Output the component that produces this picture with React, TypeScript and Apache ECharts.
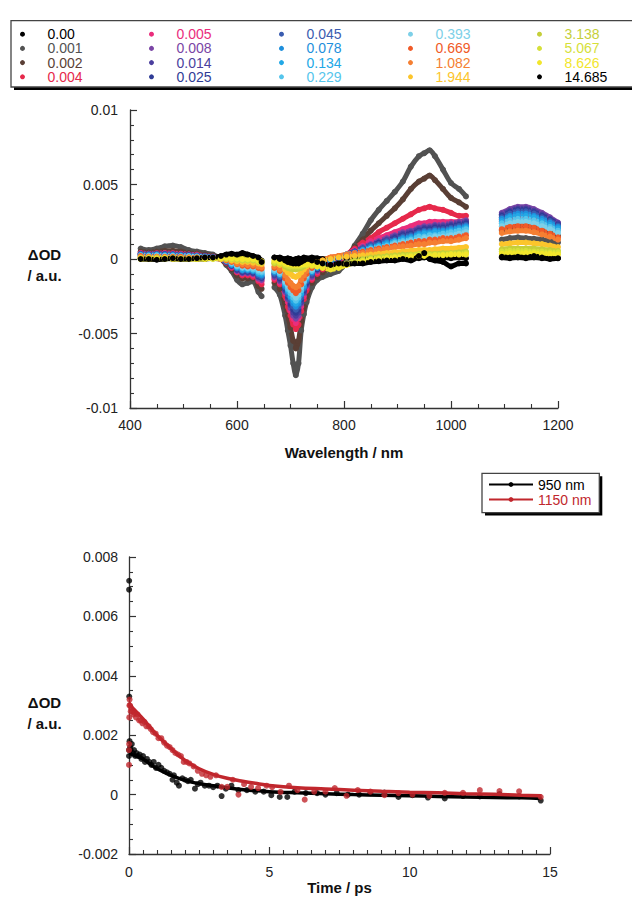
import React, { useEffect, useRef } from 'react';
import * as echarts from 'echarts';

// ---------- Transient spectra (values in mOD, i.e. ×1e-3) ----------
const delayTimes = ['0.00', '0.001', '0.002', '0.004', '0.005', '0.008', '0.014', '0.025', '0.045', '0.078', '0.134', '0.229', '0.393', '0.669', '1.082', '1.944', '3.138', '5.067', '8.626', '14.685'];
const delayColors = ['#000000', '#525252', '#5a3f35', '#e6294b', '#ea2d7c', '#7a45a5', '#4b3f9e', '#2f3c96', '#3a5cb0', '#1e8fdc', '#22a8e6', '#55c5ec', '#7dd0e8', '#f05a28', '#f57f32', '#fcc52c', '#c5cf3a', '#d6e03a', '#f2e62c', '#000000'];

const wlA = [420, 435, 450, 465, 480, 495, 510, 525, 540, 555, 570, 580, 590, 600, 610, 620, 630, 640, 646];
const wlB = [670, 680, 690, 695, 700, 705, 710, 715, 720, 725, 730, 740, 750, 760, 775, 790, 805, 820, 835, 850, 865, 880, 895, 910, 925, 940, 950, 960, 970, 985, 1000, 1015, 1028];
const wlC = [1095, 1110, 1125, 1140, 1155, 1170, 1185, 1200];

const od_0_00 = [
  0.05, 0.0, 0.0, 0.05, 0.0, 0.0, 0.05, 0.0, 0.0, 0.05, 0.1, 0.1, 0.05, 0.1, 0.0, 0.1, 0.0, -0.05, -0.1,
  0.1, 0.1, 0.0, 0.05, 0.0, -0.05, 0.0, 0.05, 0.0, 0.1, 0.05, 0.1, 0.05, 0.0, 0.05, 0.0, 0.05, 0.1, 0.05, 0.1, 0.05, 0.1, 0.05, 0.1, 0.1, 0.05, 0.1, 0.1, 0.05, 0.1, 0.05, 0.1, 0.05,
  0.1, 0.05, 0.1, 0.05, 0.1, 0.05, 0.1, 0.05,
];
const od_0_001 = [
  0.7, 0.6, 0.7, 0.85, 0.9, 0.8, 0.6, 0.5, 0.4, 0.3, 0.0, -0.4, -0.8, -1.4, -1.7, -1.6, -1.5, -2.2, -2.5,
  -1.9, -2.4, -3.8, -4.8, -5.8, -7.0, -7.8, -7.0, -4.8, -3.7, -2.9, -1.9, -1.4, -1.2, -1.0, -0.8, -0.2, 0.9, 1.7, 2.6, 3.3, 3.9, 4.5, 5.2, 6.2, 6.9, 7.1, 7.3, 6.9, 6.0, 5.1, 4.7, 4.2,
  1.3, 1.4, 1.45, 1.4, 1.35, 1.3, 1.2, 1.1,
];
const od_0_002 = [
  0.5, 0.45, 0.5, 0.55, 0.55, 0.5, 0.4, 0.35, 0.3, 0.2, 0.0, -0.3, -0.7, -1.1, -1.3, -1.3, -1.3, -1.8, -2.0,
  -1.6, -2.0, -3.0, -3.8, -4.6, -5.5, -6.0, -5.5, -4.2, -3.2, -2.5, -1.6, -1.2, -0.9, -0.6, -0.3, 0.2, 0.8, 1.3, 1.9, 2.4, 2.9, 3.4, 4.0, 4.7, 5.2, 5.4, 5.6, 5.3, 4.7, 4.1, 3.8, 3.5,
  1.9, 2.1, 2.2, 2.2, 2.1, 1.9, 1.75, 1.55,
];
const od_0_004 = [
  0.4, 0.35, 0.4, 0.4, 0.4, 0.35, 0.3, 0.3, 0.2, 0.15, 0.0, -0.25, -0.6, -0.9, -1.1, -1.1, -1.2, -1.5, -1.7,
  -1.4, -1.7, -2.5, -3.2, -3.8, -4.4, -4.7, -4.4, -3.5, -2.7, -2.1, -1.4, -1.0, -0.7, -0.4, -0.1, 0.3, 0.7, 1.1, 1.4, 1.8, 2.1, 2.4, 2.7, 3.0, 3.3, 3.4, 3.5, 3.4, 3.3, 3.1, 2.9, 2.9,
  2.5, 2.7, 2.8, 2.8, 2.7, 2.5, 2.25, 2.0,
];
const od_0_005 = [
  0.4, 0.35, 0.35, 0.4, 0.35, 0.35, 0.3, 0.25, 0.2, 0.15, 0.0, -0.2, -0.55, -0.85, -1.0, -1.0, -1.1, -1.4, -1.5,
  -1.3, -1.6, -2.3, -2.9, -3.5, -4.0, -4.3, -4.0, -3.2, -2.5, -1.9, -1.3, -0.9, -0.6, -0.3, 0.0, 0.3, 0.6, 0.9, 1.2, 1.4, 1.6, 1.8, 2.0, 2.2, 2.4, 2.4, 2.5, 2.5, 2.5, 2.5, 2.5, 2.6,
  2.65, 2.9, 3.0, 3.0, 2.9, 2.65, 2.4, 2.1,
];
const od_0_008 = [
  0.35, 0.35, 0.35, 0.35, 0.35, 0.3, 0.3, 0.25, 0.2, 0.15, 0.0, -0.2, -0.5, -0.8, -0.95, -0.95, -1.0, -1.3, -1.4,
  -1.2, -1.5, -2.2, -2.7, -3.3, -3.8, -4.0, -3.8, -3.0, -2.3, -1.8, -1.2, -0.8, -0.5, -0.2, 0.0, 0.3, 0.5, 0.8, 1.0, 1.2, 1.4, 1.6, 1.8, 1.9, 2.1, 2.2, 2.2, 2.3, 2.3, 2.4, 2.5, 2.6,
  3.1, 3.35, 3.5, 3.5, 3.35, 3.1, 2.8, 2.45,
];
const od_0_014 = [
  0.35, 0.3, 0.35, 0.35, 0.3, 0.3, 0.25, 0.2, 0.2, 0.1, 0.0, -0.2, -0.45, -0.75, -0.9, -0.9, -0.95, -1.2, -1.3,
  -1.1, -1.4, -2.1, -2.6, -3.1, -3.6, -3.8, -3.6, -2.9, -2.2, -1.7, -1.1, -0.7, -0.4, -0.2, 0.0, 0.3, 0.5, 0.7, 0.9, 1.1, 1.3, 1.5, 1.7, 1.8, 2.0, 2.1, 2.1, 2.2, 2.2, 2.3, 2.4, 2.5,
  3.0, 3.25, 3.4, 3.4, 3.25, 3.0, 2.7, 2.4,
];
const od_0_025 = [
  0.3, 0.3, 0.3, 0.3, 0.3, 0.25, 0.25, 0.2, 0.15, 0.1, 0.0, -0.15, -0.45, -0.7, -0.85, -0.85, -0.9, -1.15, -1.25,
  -1.0, -1.3, -2.0, -2.5, -3.0, -3.4, -3.6, -3.4, -2.7, -2.1, -1.6, -1.0, -0.7, -0.4, -0.1, 0.05, 0.3, 0.5, 0.7, 0.9, 1.1, 1.2, 1.4, 1.6, 1.7, 1.9, 2.0, 2.0, 2.1, 2.1, 2.2, 2.3, 2.4,
  2.9, 3.15, 3.3, 3.3, 3.15, 2.9, 2.65, 2.3,
];
const od_0_045 = [
  0.3, 0.3, 0.3, 0.3, 0.3, 0.25, 0.2, 0.2, 0.15, 0.1, 0.0, -0.15, -0.4, -0.65, -0.8, -0.8, -0.85, -1.1, -1.2,
  -1.0, -1.2, -1.9, -2.4, -2.8, -3.2, -3.4, -3.2, -2.6, -2.0, -1.5, -1.0, -0.6, -0.3, -0.1, 0.1, 0.3, 0.5, 0.7, 0.9, 1.0, 1.2, 1.3, 1.5, 1.6, 1.8, 1.9, 1.9, 2.0, 2.0, 2.1, 2.2, 2.3,
  2.8, 3.05, 3.2, 3.2, 3.05, 2.8, 2.55, 2.25,
];
const od_0_078 = [
  0.3, 0.25, 0.3, 0.25, 0.25, 0.25, 0.2, 0.2, 0.15, 0.1, 0.0, -0.15, -0.4, -0.6, -0.75, -0.75, -0.8, -1.0, -1.1,
  -0.9, -1.1, -1.8, -2.2, -2.6, -3.0, -3.2, -3.0, -2.4, -1.9, -1.4, -0.9, -0.6, -0.3, -0.1, 0.1, 0.3, 0.4, 0.6, 0.8, 0.9, 1.1, 1.2, 1.4, 1.5, 1.7, 1.8, 1.8, 1.9, 1.9, 2.0, 2.1, 2.2,
  2.7, 2.9, 3.05, 3.05, 2.9, 2.7, 2.45, 2.15,
];
const od_0_134 = [
  0.25, 0.25, 0.25, 0.25, 0.25, 0.2, 0.2, 0.15, 0.15, 0.1, 0.0, -0.1, -0.35, -0.55, -0.7, -0.7, -0.75, -0.95, -1.0,
  -0.8, -1.0, -1.7, -2.1, -2.5, -2.8, -3.0, -2.8, -2.3, -1.8, -1.3, -0.8, -0.5, -0.3, -0.1, 0.1, 0.3, 0.4, 0.6, 0.7, 0.9, 1.0, 1.2, 1.3, 1.4, 1.6, 1.7, 1.7, 1.8, 1.8, 1.9, 2.0, 2.1,
  2.55, 2.8, 2.9, 2.9, 2.8, 2.55, 2.3, 2.05,
];
const od_0_229 = [
  0.25, 0.2, 0.25, 0.2, 0.2, 0.2, 0.2, 0.15, 0.1, 0.1, 0.0, -0.1, -0.3, -0.5, -0.6, -0.65, -0.7, -0.85, -0.9,
  -0.8, -1.0, -1.6, -2.0, -2.3, -2.6, -2.8, -2.6, -2.1, -1.6, -1.2, -0.8, -0.5, -0.2, 0.0, 0.1, 0.3, 0.4, 0.5, 0.7, 0.8, 0.9, 1.1, 1.2, 1.3, 1.5, 1.5, 1.6, 1.6, 1.7, 1.8, 1.9, 2.0,
  2.4, 2.6, 2.7, 2.7, 2.6, 2.4, 2.15, 1.9,
];
const od_0_393 = [
  0.2, 0.2, 0.2, 0.2, 0.2, 0.15, 0.15, 0.15, 0.1, 0.05, 0.0, -0.1, -0.25, -0.45, -0.55, -0.6, -0.6, -0.75, -0.8,
  -0.7, -0.9, -1.5, -1.8, -2.1, -2.4, -2.6, -2.4, -1.9, -1.5, -1.1, -0.7, -0.4, -0.2, 0.0, 0.1, 0.3, 0.4, 0.5, 0.6, 0.7, 0.8, 1.0, 1.1, 1.2, 1.3, 1.4, 1.4, 1.5, 1.5, 1.6, 1.7, 1.8,
  2.2, 2.4, 2.5, 2.5, 2.4, 2.2, 2.0, 1.75,
];
const od_0_669 = [
  0.2, 0.15, 0.15, 0.15, 0.15, 0.15, 0.1, 0.1, 0.1, 0.05, 0.0, -0.1, -0.2, -0.35, -0.45, -0.5, -0.5, -0.6, -0.65,
  -0.6, -0.8, -1.3, -1.6, -1.9, -2.1, -2.3, -2.1, -1.7, -1.3, -1.0, -0.6, -0.3, -0.1, 0.1, 0.2, 0.3, 0.4, 0.5, 0.6, 0.7, 0.8, 0.9, 1.0, 1.1, 1.2, 1.2, 1.3, 1.3, 1.4, 1.4, 1.5, 1.6,
  2.0, 2.15, 2.2, 2.2, 2.1, 1.9, 1.7, 1.45,
];
const od_1_082 = [
  0.15, 0.15, 0.15, 0.1, 0.1, 0.1, 0.1, 0.1, 0.05, 0.05, 0.0, -0.05, -0.15, -0.3, -0.35, -0.4, -0.4, -0.5, -0.55,
  -0.5, -0.7, -1.1, -1.4, -1.6, -1.8, -1.9, -1.8, -1.4, -1.1, -0.8, -0.5, -0.3, -0.1, 0.1, 0.2, 0.3, 0.35, 0.4, 0.5, 0.6, 0.7, 0.8, 0.85, 0.9, 1.0, 1.0, 1.1, 1.1, 1.2, 1.2, 1.3, 1.4,
  1.75, 1.85, 1.9, 1.9, 1.8, 1.65, 1.5, 1.3,
];
const od_1_944 = [
  0.1, 0.1, 0.1, 0.1, 0.1, 0.05, 0.05, 0.05, 0.05, 0.05, 0.0, 0.0, -0.1, -0.15, -0.2, -0.2, -0.25, -0.3, -0.35,
  -0.3, -0.4, -0.7, -0.9, -1.0, -1.15, -1.2, -1.1, -0.9, -0.7, -0.5, -0.3, -0.2, -0.1, 0.0, 0.1, 0.15, 0.2, 0.25, 0.3, 0.35, 0.4, 0.45, 0.5, 0.55, 0.6, 0.6, 0.6, 0.65, 0.7, 0.7, 0.75, 0.8,
  1.0, 1.05, 1.1, 1.1, 1.05, 1.0, 0.9, 0.8,
];
const od_3_138 = [
  0.05, 0.05, 0.05, 0.05, 0.05, 0.05, 0.0, 0.05, 0.0, 0.05, 0.05, 0.0, 0.0, -0.05, -0.1, -0.1, -0.1, -0.2, -0.25,
  -0.3, -0.3, -0.5, -0.6, -0.65, -0.7, -0.7, -0.65, -0.6, -0.5, -0.4, -0.4, -0.45, -0.5, -0.55, -0.5, -0.3, -0.1, 0.0, 0.1, 0.15, 0.2, 0.25, 0.3, 0.3, 0.35, 0.4, 0.35, 0.35, 0.4, 0.4, 0.45, 0.5,
  0.65, 0.7, 0.7, 0.7, 0.7, 0.65, 0.6, 0.55,
];
const od_5_067 = [
  0.0, 0.05, 0.0, 0.0, 0.05, 0.0, 0.0, 0.0, 0.05, 0.0, 0.05, 0.05, 0.0, 0.0, -0.05, -0.05, -0.05, -0.15, -0.2,
  -0.2, -0.3, -0.4, -0.45, -0.5, -0.5, -0.5, -0.5, -0.45, -0.4, -0.4, -0.45, -0.5, -0.55, -0.6, -0.55, -0.35, -0.2, -0.1, 0.0, 0.05, 0.1, 0.15, 0.2, 0.25, 0.3, 0.3, 0.3, 0.3, 0.3, 0.35, 0.35, 0.4,
  0.5, 0.55, 0.55, 0.55, 0.5, 0.5, 0.45, 0.45,
];
const od_8_626 = [
  0.0, 0.0, 0.0, 0.05, 0.0, 0.0, 0.0, 0.0, 0.0, 0.05, 0.05, 0.1, 0.05, 0.05, 0.0, 0.0, 0.0, -0.1, -0.15,
  -0.1, -0.2, -0.3, -0.35, -0.35, -0.4, -0.4, -0.4, -0.35, -0.35, -0.35, -0.4, -0.5, -0.6, -0.7, -0.6, -0.4, -0.25, -0.15, -0.05, 0.0, 0.05, 0.1, 0.1, 0.15, 0.2, 0.2, 0.2, 0.25, 0.25, 0.3, 0.3, 0.3,
  0.35, 0.4, 0.4, 0.4, 0.4, 0.35, 0.35, 0.3,
];
const od_14_685 = [
  0.0, 0.0, -0.05, 0.0, 0.05, 0.0, 0.0, 0.05, 0.1, 0.1, 0.2, 0.3, 0.35, 0.3, 0.4, 0.3, 0.2, 0.1, -0.2,
  0.1, 0.0, -0.1, -0.2, -0.25, -0.3, -0.3, -0.3, -0.2, -0.1, 0.0, -0.1, -0.2, -0.3, -0.4, -0.3, -0.35, -0.3, -0.3, -0.2, -0.15, -0.1, -0.1, 0.0, -0.1, 0.2, 0.4, 0.0, -0.1, -0.2, -0.5, -0.3, -0.3,
  0.15, 0.1, 0.15, 0.1, 0.2, 0.1, 0.0, 0.05,
];
const spectraValues = [od_0_00, od_0_001, od_0_002, od_0_004, od_0_005, od_0_008, od_0_014, od_0_025, od_0_045, od_0_078, od_0_134, od_0_229, od_0_393, od_0_669, od_1_082, od_1_944, od_3_138, od_5_067, od_8_626, od_14_685];

// ---------- Kinetics (time in ps, ΔOD in mOD) ----------
const pts950 = [
  [0, 1.3], [0, 1.5], [0.004, 6.9], [0.006, 7.2], [0.01, 3.3], [0.02, 1.8], [0.04, 1.6], [0.06, 1.5], [0.1, 1.7], [0.14, 1.4],
  [0.18, 1.5], [0.22, 1.3], [0.27, 1.4], [0.32, 1.3], [0.38, 1.35], [0.44, 1.2], [0.5, 1.3], [0.57, 1.1], [0.64, 1.2], [0.72, 1.1],
  [0.8, 1.0], [0.88, 1.1], [0.96, 0.9], [1.05, 1.0], [1.15, 0.9], [1.25, 0.8], [1.35, 0.75], [1.45, 0.7], [1.55, 0.5], [1.6, 0.65],
  [1.7, 0.4], [1.78, 0.3], [1.9, 0.55], [2.0, 0.5], [2.1, 0.45], [2.2, 0.5], [2.35, 0.2], [2.45, 0.35], [2.55, 0.4], [2.7, 0.3],
  [2.85, 0.3], [3.0, 0.25], [3.15, 0.3], [3.3, -0.05], [3.45, 0.2], [3.65, 0.3], [3.9, 0.15], [4.2, 0.15], [4.5, 0.1], [4.8, 0.1],
  [5.07, -0.02], [5.37, -0.08], [5.64, -0.08], [5.9, 0.1], [6.3, 0.05], [6.7, 0.05], [7.0, 0.0], [7.4, 0.05], [7.8, 0.0], [8.2, 0.0],
  [8.6, 0.05], [9.1, 0.07], [9.6, -0.08], [10.1, -0.02], [10.65, -0.1], [11.25, -0.13], [11.9, -0.05], [12.5, -0.06], [13.2, 0.02], [13.9, -0.06],
  [14.67, -0.2],
];
const pts1150 = [
  [0, 1.0], [0, 1.5], [0.005, 1.7], [0.01, 2.6], [0.015, 3.0], [0.02, 3.2], [0.04, 3.0], [0.06, 2.8], [0.08, 2.9], [0.12, 2.8],
  [0.16, 2.7], [0.2, 2.75], [0.25, 2.6], [0.3, 2.7], [0.36, 2.5], [0.42, 2.5], [0.48, 2.4], [0.55, 2.45], [0.62, 2.3], [0.7, 2.3],
  [0.78, 2.2], [0.86, 2.1], [0.95, 2.05], [1.05, 1.9], [1.15, 1.9], [1.25, 1.75], [1.35, 1.65], [1.45, 1.6], [1.55, 1.5], [1.65, 1.4],
  [1.75, 1.35], [1.85, 1.3], [1.95, 1.1], [2.05, 1.1], [2.15, 1.05], [2.3, 0.95], [2.45, 0.8], [2.6, 0.7], [2.75, 0.65], [2.9, 0.6],
  [3.1, 0.65], [3.3, 0.26], [3.5, 0.26], [3.7, 0.5], [3.9, 0.0], [4.1, 0.35], [4.35, 0.26], [4.6, 0.22], [4.9, 0.3], [5.1, 0.25],
  [5.4, 0.09], [5.7, 0.3], [6.0, 0.15], [6.26, -0.17], [6.6, 0.1], [7.0, 0.1], [7.33, 0.22], [7.75, -0.04], [8.15, 0.15], [8.6, 0.1],
  [9.1, -0.02], [9.6, 0.05], [10.1, 0.0], [10.7, -0.04], [11.25, 0.06], [11.9, 0.06], [12.5, 0.15], [13.2, 0.12], [13.9, 0.11], [14.67, -0.08],
];
const fit950 = [
  [0, 1.4], [0.25, 1.3], [0.5, 1.2], [0.75, 1.03], [1, 0.87], [1.5, 0.65], [2, 0.48], [2.5, 0.37], [3, 0.3], [3.5, 0.23],
  [4, 0.17], [5, 0.1], [6, 0.06], [7, 0.03], [8, 0.0], [9, -0.02], [10, -0.04], [11, -0.06], [12, -0.08], [13, -0.1],
  [14, -0.11], [14.7, -0.13],
];
const fit1150 = [
  [0, 3.1], [0.05, 3.0], [0.25, 2.8], [0.5, 2.55], [0.75, 2.27], [1, 2.0], [1.25, 1.77], [1.5, 1.55], [1.75, 1.34], [2, 1.15],
  [2.5, 0.87], [3, 0.68], [3.5, 0.55], [4, 0.46], [4.5, 0.38], [5, 0.31], [6, 0.23], [7, 0.19], [8, 0.15], [9, 0.11],
  [10, 0.08], [11, 0.06], [12, 0.03], [13, 0.01], [14, -0.02], [14.7, -0.04],
];

const xTicksTop = [400, 1200, 200];
const yTicksTop = [-0.01, 0.01, 0.005];
const xTicksBottom = [0, 15, 5];
const yTicksBottom = [-0.002, 0.008, 0.002];

const FONT = 'Liberation Sans, Arial, Helvetica, sans-serif';

function spectrumData(values: number[]) {
  const wls = [...wlA, ...wlB, ...wlC];
  const out: any[] = [];
  wls.forEach((w, i) => {
    out.push([w, values[i] * 1e-3]);
    if (i === wlA.length - 1 || i === wlA.length + wlB.length - 1) out.push([w, null]);
  });
  return out;
}
const toOD = (arr: number[][]) => arr.map(([t, v]) => [t, v * 1e-3]);

const fmt = (v: number) => {
  const s = parseFloat(v.toFixed(4));
  return s === 0 ? '0' : String(s);
};
const fmtInt = (v: number) => String(Math.round(v));

function axisStyle() {
  return {
    axisLine: { show: true, onZero: false, lineStyle: { color: '#333', width: 1.3 } },
    axisTick: { show: true, inside: true, length: 7, lineStyle: { color: '#333', width: 1.2 } },
    minorTick: { show: true, length: 4, lineStyle: { color: '#333', width: 1.1 } },
    splitLine: { show: false },
    minorSplitLine: { show: false },
  };
}

export default function App() {
  const ref = useRef<HTMLDivElement>(null);
  useEffect(() => {
    if (!ref.current) return;
    const chart = echarts.init(ref.current, undefined, { renderer: 'svg' });

    const colLeft = [20, 149, 279, 408, 537];
    const topLegends = colLeft.map((left, c) => ({
      orient: 'vertical',
      left,
      top: 27.2,
      padding: 0,
      itemWidth: 40,
      itemHeight: 5,
      itemGap: 0.2,
      icon: 'circle',
      selectedMode: false,
      textStyle: { fontSize: 14, lineHeight: 13, fontFamily: FONT },
      data: delayTimes.slice(c * 4, c * 4 + 4).map((n, k) => ({ name: n, textStyle: { color: delayColors[c * 4 + k] } })),
    }));

    const spectraSeries = delayTimes.map((name, i) => ({
      type: 'line',
      name,
      xAxisIndex: 0,
      yAxisIndex: 0,
      data: spectrumData(spectraValues[i]),
      color: delayColors[i],
      lineStyle: { width: 5, color: delayColors[i] },
      itemStyle: { color: delayColors[i] },
      symbol: 'circle',
      symbolSize: 6,
      showSymbol: true,
      showAllSymbol: true,
      smooth: 0.3,
      connectNulls: false,
      silent: true,
    }));

    const option: any = {
      animation: false,
      textStyle: { fontFamily: FONT },
      grid: [
        { left: 130, top: 110, width: 428, height: 298, containLabel: false, outerBoundsMode: 'none' },
        { left: 129, top: 557, width: 421, height: 297, containLabel: false, outerBoundsMode: 'none' },
      ],
      xAxis: [
        {
          type: 'value', gridIndex: 0, min: xTicksTop[0], max: xTicksTop[1], interval: xTicksTop[2],
          ...axisStyle(), minorTick: { ...axisStyle().minorTick, splitNumber: 4 },
          axisLabel: { color: '#222', fontSize: 14, fontFamily: FONT, margin: 10, formatter: fmtInt },
          name: 'Wavelength / nm', nameLocation: 'middle', nameGap: 37,
          nameTextStyle: { fontSize: 15, fontWeight: 'bold', color: '#111', fontFamily: FONT },
        },
        {
          type: 'value', gridIndex: 1, min: xTicksBottom[0], max: xTicksBottom[1], interval: xTicksBottom[2],
          ...axisStyle(), minorTick: { ...axisStyle().minorTick, splitNumber: 10 },
          axisLabel: { color: '#222', fontSize: 14, fontFamily: FONT, margin: 11, formatter: fmtInt },
          name: 'Time / ps', nameLocation: 'middle', nameGap: 23.5,
          nameTextStyle: { fontSize: 15, fontWeight: 'bold', color: '#111', fontFamily: FONT },
        },
      ],
      yAxis: [
        {
          type: 'value', gridIndex: 0, min: yTicksTop[0], max: yTicksTop[1], interval: yTicksTop[2],
          ...axisStyle(), minorTick: { ...axisStyle().minorTick, splitNumber: 5 },
          axisLabel: { color: '#222', fontSize: 14, fontFamily: FONT, margin: 12, formatter: fmt },
        },
        {
          type: 'value', gridIndex: 1, min: yTicksBottom[0], max: yTicksBottom[1], interval: yTicksBottom[2],
          ...axisStyle(), minorTick: { ...axisStyle().minorTick, splitNumber: 4 },
          axisLabel: { color: '#222', fontSize: 14, fontFamily: FONT, margin: 11, formatter: fmt },
        },
      ],
      legend: [
        ...topLegends,
        {
          orient: 'vertical',
          left: 488,
          top: 477.5,
          padding: 0,
          itemWidth: 44,
          itemHeight: 6,
          itemGap: 1,
          selectedMode: false,
          textStyle: { fontSize: 14, lineHeight: 13, fontFamily: FONT },
          data: [
            { name: '950 nm', textStyle: { color: '#000' } },
            { name: '1150 nm', textStyle: { color: '#c1272d' } },
          ],
        },
      ],
      graphic: [
        { type: 'rect', z: 0, shape: { x: 14, y: 23.7, width: 625, height: 66.3 }, style: { fill: '#000' }, silent: true },
        { type: 'rect', z: 1, shape: { x: 11, y: 20.7, width: 625, height: 66.3 }, style: { fill: '#fff', stroke: '#444', lineWidth: 1.3 }, silent: true },
        { type: 'rect', z: 0, shape: { x: 485, y: 476.3, width: 117.3, height: 39.3 }, style: { fill: '#000' }, silent: true },
        { type: 'rect', z: 1, shape: { x: 482, y: 473.3, width: 117.3, height: 39.3 }, style: { fill: '#fff', stroke: '#444', lineWidth: 1.3 }, silent: true },
        { type: 'text', z: 5, x: 44.5, y: 254, style: { text: 'ΔOD', fontSize: 15, fontWeight: 'bold', fontFamily: FONT, fill: '#111', align: 'center', verticalAlign: 'middle' } },
        { type: 'text', z: 5, x: 44.5, y: 275, style: { text: '/ a.u.', fontSize: 15, fontWeight: 'bold', fontFamily: FONT, fill: '#111', align: 'center', verticalAlign: 'middle' } },
        { type: 'text', z: 5, x: 44.5, y: 702, style: { text: 'ΔOD', fontSize: 15, fontWeight: 'bold', fontFamily: FONT, fill: '#111', align: 'center', verticalAlign: 'middle' } },
        { type: 'text', z: 5, x: 44.5, y: 723, style: { text: '/ a.u.', fontSize: 15, fontWeight: 'bold', fontFamily: FONT, fill: '#111', align: 'center', verticalAlign: 'middle' } },
      ],
      series: [
        ...spectraSeries,
        {
          type: 'line', name: '950 nm', xAxisIndex: 1, yAxisIndex: 1, data: toOD(fit950),
          color: '#000', lineStyle: { width: 3.5, color: '#000' }, itemStyle: { color: '#000' },
          symbol: 'circle', showSymbol: false, smooth: 0.4, silent: true,
        },
        {
          type: 'line', name: '1150 nm', xAxisIndex: 1, yAxisIndex: 1, data: toOD(fit1150),
          color: '#c1272d', lineStyle: { width: 3.5, color: '#c1272d' }, itemStyle: { color: '#c1272d' },
          symbol: 'circle', showSymbol: false, smooth: 0.4, silent: true, z: 3,
        },
        {
          type: 'scatter', name: '950 nm', xAxisIndex: 1, yAxisIndex: 1, data: toOD(pts950),
          symbolSize: 6, itemStyle: { color: '#000' }, silent: true,
        },
        {
          type: 'scatter', name: '1150 nm', xAxisIndex: 1, yAxisIndex: 1, data: toOD(pts1150),
          symbolSize: 6, itemStyle: { color: '#c1272d' }, silent: true, z: 3,
        },
      ],
    };

    chart.setOption(option);
    return () => chart.dispose();
  }, []);

  return <div ref={ref} style={{ position: 'fixed', left: 0, top: 0, width: 632, height: 908, background: '#fff' }} />;
}
